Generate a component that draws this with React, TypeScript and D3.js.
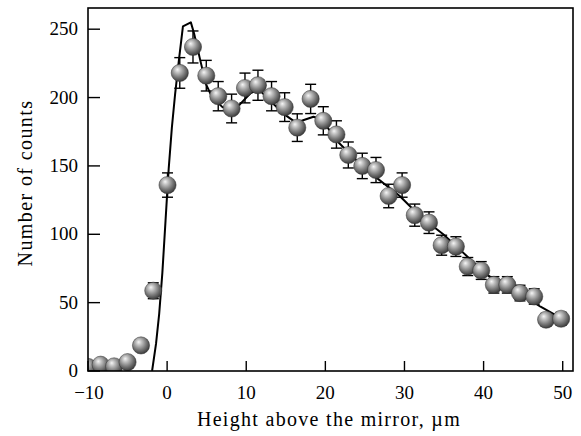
import React from 'react';
import * as d3 from 'd3';

// measured points (height in um, counts, error)
const heights = [-10, -8.4, -6.7, -5.0, -3.3, -1.75, 0.05, 1.6, 3.27, 4.95, 6.46, 8.15, 9.84, 11.48, 13.2, 14.86, 16.45, 18.14, 19.74, 21.4, 22.9, 24.67, 26.4, 28.0, 29.7, 31.3, 33.1, 34.7, 36.5, 38.0, 39.7, 41.3, 43.0, 44.6, 46.4, 47.9, 49.8];
const counts = [3, 4.6, 3.4, 6.5, 18.7, 58.7, 136, 218, 237, 216, 201, 192, 207, 209, 201, 193, 178, 199, 183, 173, 158, 150, 147, 128, 136, 114, 108.5, 92, 91, 76.4, 73.5, 63, 63, 57, 54.5, 37.5, 38.2];
const errors = [1.3, 1.6, 1.4, 1.9, 3.3, 5.8, 8.9, 11.2, 11.7, 11.2, 10.7, 10.5, 10.9, 11, 10.7, 10.5, 10.1, 10.7, 10.3, 10, 9.5, 9.3, 9.2, 8.6, 8.9, 8.1, 7.9, 7.3, 7.2, 6.6, 6.5, 6, 6, 5.7, 5.6, 4.6, 4.7];

// theory curve
const curveX = [-1.9, -1.4, -1.0, -0.6, -0.2, 0.2, 0.6, 1.0, 1.5, 2.0, 3.0, 3.4, 4.2, 4.9, 5.7, 7.0, 8.2, 9.2, 10.5, 11.6, 13.3, 15.0, 16.2, 17.0, 18.5, 19.5, 21.7, 25, 29.4, 32, 34.9, 37.9, 40, 42.2, 44.5, 47.2, 50];
const curveY = [0, 20, 42, 72, 110, 148, 178, 202, 228, 252, 255, 247, 227, 210, 200, 193, 191, 195, 203, 206, 196, 187, 182, 183, 186, 184, 167, 148, 128, 113, 100, 84, 72, 64, 57, 47, 38];

const xTicks = [-10, 0, 10, 20, 30, 40, 50];
const yTicks = [0, 50, 100, 150, 200, 250];

const W = 581, H = 436;
const m = { left: 88, right: 573, top: 8, bottom: 371 };

export default function App() {
  const x = d3.scaleLinear().domain([-10, 51.3]).range([m.left, m.right]);
  const y = d3.scaleLinear().domain([0, 265.5]).range([m.bottom, m.top]);
  const line = d3.line<number>().x((d, i) => x(curveX[i])).y(d => y(d));
  const font = '"Liberation Serif", "Times New Roman", serif';

  return (
    <svg width={W} height={H} style={{ position: 'absolute', left: 0, top: 0, background: '#fff' }}>
      <defs>
        <radialGradient id="ball" cx="42%" cy="38%" r="62%" fx="36%" fy="30%">
          <stop offset="0%" stopColor="#f6f6f6" />
          <stop offset="25%" stopColor="#c4c4c4" />
          <stop offset="65%" stopColor="#7a7a7a" />
          <stop offset="100%" stopColor="#3c3c3c" />
        </radialGradient>
        <clipPath id="plot">
          <rect x={m.left} y={m.top} width={m.right - m.left} height={m.bottom - m.top} />
        </clipPath>
      </defs>

      <g clipPath="url(#plot)">
        <path d={line(curveY) || ''} fill="none" stroke="#000" strokeWidth={2} strokeLinejoin="round" />
        {heights.map((h, i) => {
          const cx = x(h), top = y(counts[i] + errors[i]), bot = y(counts[i] - errors[i]);
          return (
            <g key={'e' + i} stroke="#000" strokeWidth={1.4}>
              <line x1={cx} x2={cx} y1={top} y2={bot} />
              <line x1={cx - 5.5} x2={cx + 5.5} y1={top} y2={top} />
              <line x1={cx - 5.5} x2={cx + 5.5} y1={bot} y2={bot} />
            </g>
          );
        })}
        {heights.map((h, i) => (
          <circle key={'p' + i} cx={x(h)} cy={y(counts[i])} r={8.6} fill="url(#ball)" stroke="#333" strokeWidth={0.5} />
        ))}
      </g>

      <rect x={m.left} y={m.top} width={m.right - m.left} height={m.bottom - m.top} fill="none" stroke="#000" strokeWidth={1.6} />

      {yTicks.map(t => (
        <g key={'y' + t}>
          <line x1={m.left} x2={m.left + 12} y1={y(t)} y2={y(t)} stroke="#000" strokeWidth={1.4} />
          <text x={78} y={y(t) + 6} textAnchor="end" fontFamily={font} fontSize={19}>{t}</text>
        </g>
      ))}
      {xTicks.map(t => (
        <g key={'x' + t}>
          <line x1={x(t)} x2={x(t)} y1={m.bottom} y2={m.bottom - 10} stroke="#000" strokeWidth={1.4} />
          <text x={x(t) + (t < 0 ? 1 : 0)} y={399} textAnchor="middle" fontFamily={font} fontSize={19}>
            {t < 0 ? '\u2212' + Math.abs(t) : t}
          </text>
        </g>
      ))}

      <text x={329} y={426} textAnchor="middle" fontFamily={font} fontSize={20} letterSpacing={1.3}>Height above the mirror, µm</text>
      <text transform="translate(32,183) rotate(-90)" textAnchor="middle" fontFamily={font} fontSize={20} letterSpacing={1.4}>Number of counts</text>
    </svg>
  );
}
